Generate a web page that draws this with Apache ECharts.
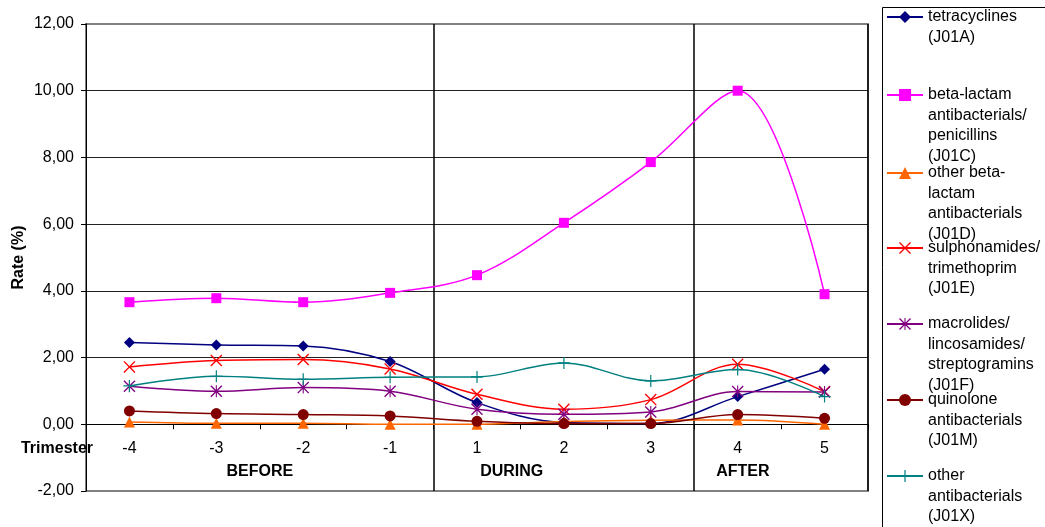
<!DOCTYPE html>
<html>
<head>
<meta charset="utf-8">
<script src="https://cdn.jsdelivr.net/npm/echarts@6/dist/echarts.min.js"></script>
<style>html,body{margin:0;padding:0;background:#fff}#c{width:1045px;height:527px}</style>
</head>
<body>
<div id="c"></div>
<script>
const categories = ['-4', '-3', '-2', '-1', '1', '2', '3', '4', '5'];
const tetracyclines = [2.45, 2.38, 2.35, 1.88, 0.65, 0.05, 0.02, 0.83, 1.65];
const betaLactam = [3.66, 3.78, 3.66, 3.94, 4.47, 6.04, 7.86, 10.0, 3.90];
const otherBetaLactam = [0.07, 0.03, 0.03, 0.0, 0.0, 0.08, 0.12, 0.13, 0.0];
const sulphonamides = [1.72, 1.91, 1.94, 1.66, 0.90, 0.45, 0.74, 1.80, 0.98];
const macrolides = [1.14, 0.99, 1.10, 0.99, 0.45, 0.30, 0.37, 0.98, 0.97];
const quinolone = [0.40, 0.32, 0.29, 0.25, 0.09, 0.02, 0.02, 0.29, 0.18];
const otherAntibacterials = [1.15, 1.44, 1.35, 1.41, 1.42, 1.84, 1.30, 1.64, 0.83];
const seriesNames = [
  'tetracyclines\n(J01A)',
  'beta-lactam\nantibacterials/\npenicillins\n(J01C)',
  'other beta-\nlactam\nantibacterials\n(J01D)',
  'sulphonamides/\ntrimethoprim\n(J01E)',
  'macrolides/\nlincosamides/\nstreptogramins\n(J01F)',
  'quinolone\nantibacterials\n(J01M)',
  'other\nantibacterials\n(J01X)'
];
const groupLabels = ['BEFORE', 'DURING', 'AFTER'];
const yMin = -2, yMax = 12, yInterval = 2;

const FONT = 'Liberation Sans, Arial, sans-serif';
const colors = ['#000080', '#FF00FF', '#FF6600', '#FF0000', '#800080', '#800000', '#008080'];
const xPath = 'path://M0,0.8L0.8,0L10,9.2L9.2,10Z M9.2,0L10,0.8L0.8,10L0,9.2Z';
const starPath = 'path://M0,0.8L0.8,0L10,9.2L9.2,10Z M9.2,0L10,0.8L0.8,10L0,9.2Z M4.55,0H5.45V10H4.55Z';
const plusPath = 'path://M4.5,0H5.5V10H4.5Z M0,4.5H10V5.5H0Z';
const symbols = ['diamond', 'rect', 'triangle', xPath, starPath, 'circle', plusPath];
const symbolSizes = [11, 10, 11, 12, 12, 11, 12];
const dataSets = [tetracyclines, betaLactam, otherBetaLactam, sulphonamides, macrolides, quinolone, otherAntibacterials];

// layout
const W = 1045, H = 527;
const GRID = { left: 86, right: 177, top: 24, bottom: 36 };
const plotH = H - GRID.top - GRID.bottom;
const zeroOffset = -((0 - yMin) / (yMax - yMin)) * plotH; // move x axis up to y = 0

const legendIconY = [17, 95, 173, 248, 324, 400, 476];
const LH = 20.5;
const legends = seriesNames.map((name, i) => {
  const n = name.split('\n').length;
  return {
    show: true,
    orient: 'vertical',
    left: 886,
    top: legendIconY[i] - (2 * n - 1) * LH / 2,
    padding: 0,
    itemWidth: 36,
    itemHeight: 15,
    itemGap: 0,
    selectedMode: false,
    data: [name],
    formatter: (nm) => '\n'.repeat(n - 1) + nm,
    textStyle: { fontFamily: FONT, fontSize: 16, color: '#000', lineHeight: LH }
  };
});

const series = dataSets.map((d, i) => ({
  name: seriesNames[i],
  type: 'line',
  data: d,
  smooth: 0.35,
  symbol: symbols[i],
  symbolSize: symbolSizes[i],
  showAllSymbol: true,
  color: colors[i],
  lineStyle: { width: 1.5, color: colors[i] },
  itemStyle: { color: colors[i] },
  emphasis: { disabled: true },
  xAxisIndex: 0,
  yAxisIndex: 0,
  z: 3 + i
}));

const groupCenters = [2.0, 4.9, 7.56];

const option = {
  animation: false,
  backgroundColor: '#fff',
  textStyle: { fontFamily: FONT },
  grid: {
    left: GRID.left, right: GRID.right, top: GRID.top, bottom: GRID.bottom,
    containLabel: false, outerBoundsMode: 'none',
    show: true, borderColor: '#808080', borderWidth: 2, backgroundColor: 'transparent'
  },
  legend: legends,
  graphic: [{
    type: 'rect', left: 880, top: 5, z: 0,
    shape: { width: 170, height: 530 },
    style: { fill: 'none', stroke: '#000', lineWidth: 1 }
  }],
  xAxis: [{
    type: 'category',
    data: categories,
    boundaryGap: true,
    position: 'bottom',
    offset: zeroOffset,
    name: '\nTrimester',
    nameLocation: 'start',
    nameGap: -7,
    nameMoveOverlap: false,
    nameTextStyle: { fontFamily: FONT, fontSize: 16, fontWeight: 'bold', color: '#000', lineHeight: 48, verticalAlign: 'middle', align: 'right' },
    axisLine: { show: true, onZero: false, lineStyle: { color: '#000', width: 1 } },
    axisTick: { show: true, length: 5, lineStyle: { color: '#000' } },
    axisLabel: { fontFamily: FONT, fontSize: 16, color: '#000', margin: 16, interval: 0 },
    splitLine: {
      show: true,
      interval: (idx) => idx === 4 || idx === 7,
      lineStyle: { color: '#000', width: 1.5 }
    }
  }, {
    type: 'value',
    min: 0, max: 9,
    position: 'bottom',
    offset: zeroOffset,
    axisLine: { show: false, onZero: false },
    axisTick: { show: false },
    splitLine: { show: false },
    axisLabel: {
      customValues: groupCenters,
      formatter: (v) => groupLabels[groupCenters.indexOf(v)] || '',
      fontFamily: FONT, fontSize: 16, fontWeight: 'bold', color: '#000', margin: 39
    }
  }],
  yAxis: {
    type: 'value',
    min: yMin, max: yMax, interval: yInterval,
    name: 'Rate (%)',
    nameLocation: 'middle',
    nameRotate: 90,
    nameGap: 59,
    nameMoveOverlap: false,
    nameTextStyle: { fontFamily: FONT, fontSize: 16, fontWeight: 'bold', color: '#000' },
    axisLine: { show: true, onZero: false, lineStyle: { color: '#000', width: 1 } },
    axisTick: { show: true, length: 5, lineStyle: { color: '#000' } },
    axisLabel: {
      fontFamily: FONT, fontSize: 16, color: '#000', margin: 12,
      formatter: (v) => v.toFixed(2).replace('.', ',')
    },
    splitLine: { show: true, showMinLine: false, showMaxLine: false, lineStyle: { color: '#222', width: 1 } }
  },
  series: series
};

const chart = echarts.init(document.getElementById('c'), null, { renderer: 'canvas' });
chart.setOption(option);
</script>
</body>
</html>
